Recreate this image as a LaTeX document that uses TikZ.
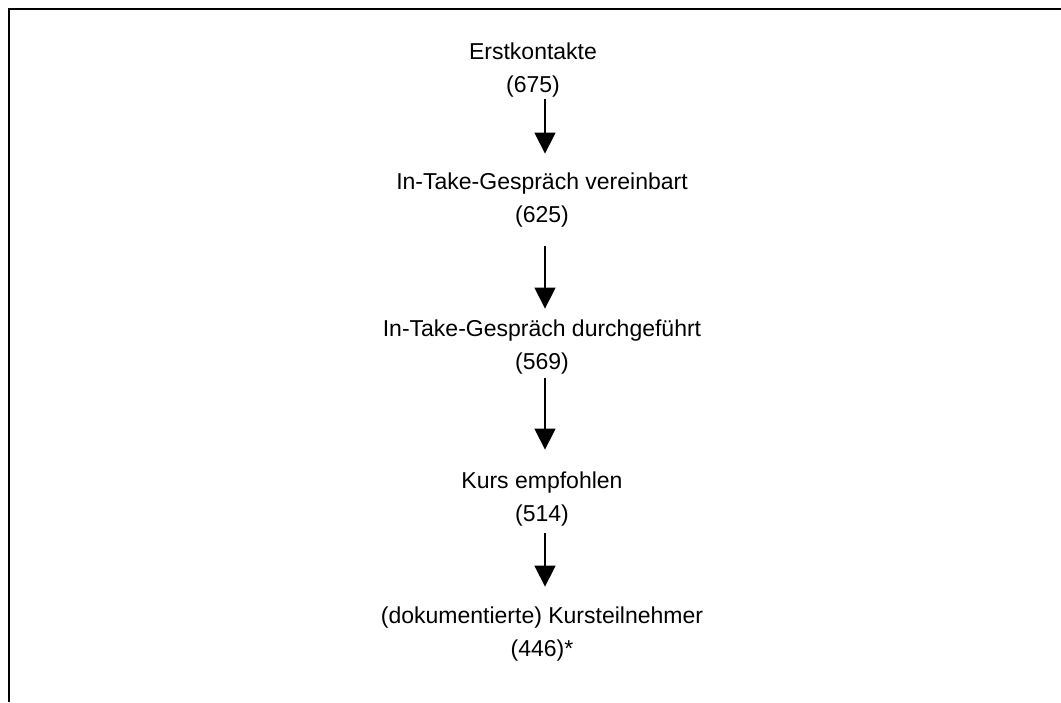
\documentclass[tikz,border=0pt]{standalone}
\usepackage{fontspec}
\setmainfont{Liberation Sans}
\usetikzlibrary{arrows.meta}

\begin{document}
\begin{tikzpicture}[
  x=1pt, y=-1pt,
  every node/.style={align=center, inner sep=2pt,
    font=\fontsize{23}{33}\selectfont},
  pfeil/.style={line width=1.5pt, -{Triangle[length=21pt,width=21pt]}}
]
\useasboundingbox (0,0) rectangle (1061,702);
% frame (top and left edge only):
\draw [line width=2.5pt] (9,702) -- (9,9) -- (1061,9);
% stages:
\node (kontakt)    at (533,70)  {Erstkontakte\\(675)};
\node (vereinbart) at (542,200) {In-Take-Gespräch vereinbart\\(625)};
\node (durchgef)   at (542,347) {In-Take-Gespräch durchgeführt\\(569)};
\node (empfohlen)  at (542,499) {Kurs empfohlen\\(514)};
\node (teilnehmer) at (542,634) {(dokumentierte) Kursteilnehmer\\(446)*};
% arrows:
\draw [pfeil, shorten >=17pt] (kontakt.south -| 545,0) -- (vereinbart.north -| 545,0);
\draw [pfeil, shorten <=17pt, shorten >=9pt] (vereinbart.south -| 545,0) -- (durchgef.north -| 545,0);
\draw [pfeil, shorten <=2pt, shorten >=20pt] (durchgef.south -| 545,0) -- (empfohlen.north -| 545,0);
\draw [pfeil, shorten <=5pt, shorten >=18pt] (empfohlen.south -| 545,0) -- (teilnehmer.north -| 545,0);
\end{tikzpicture}
\end{document}
